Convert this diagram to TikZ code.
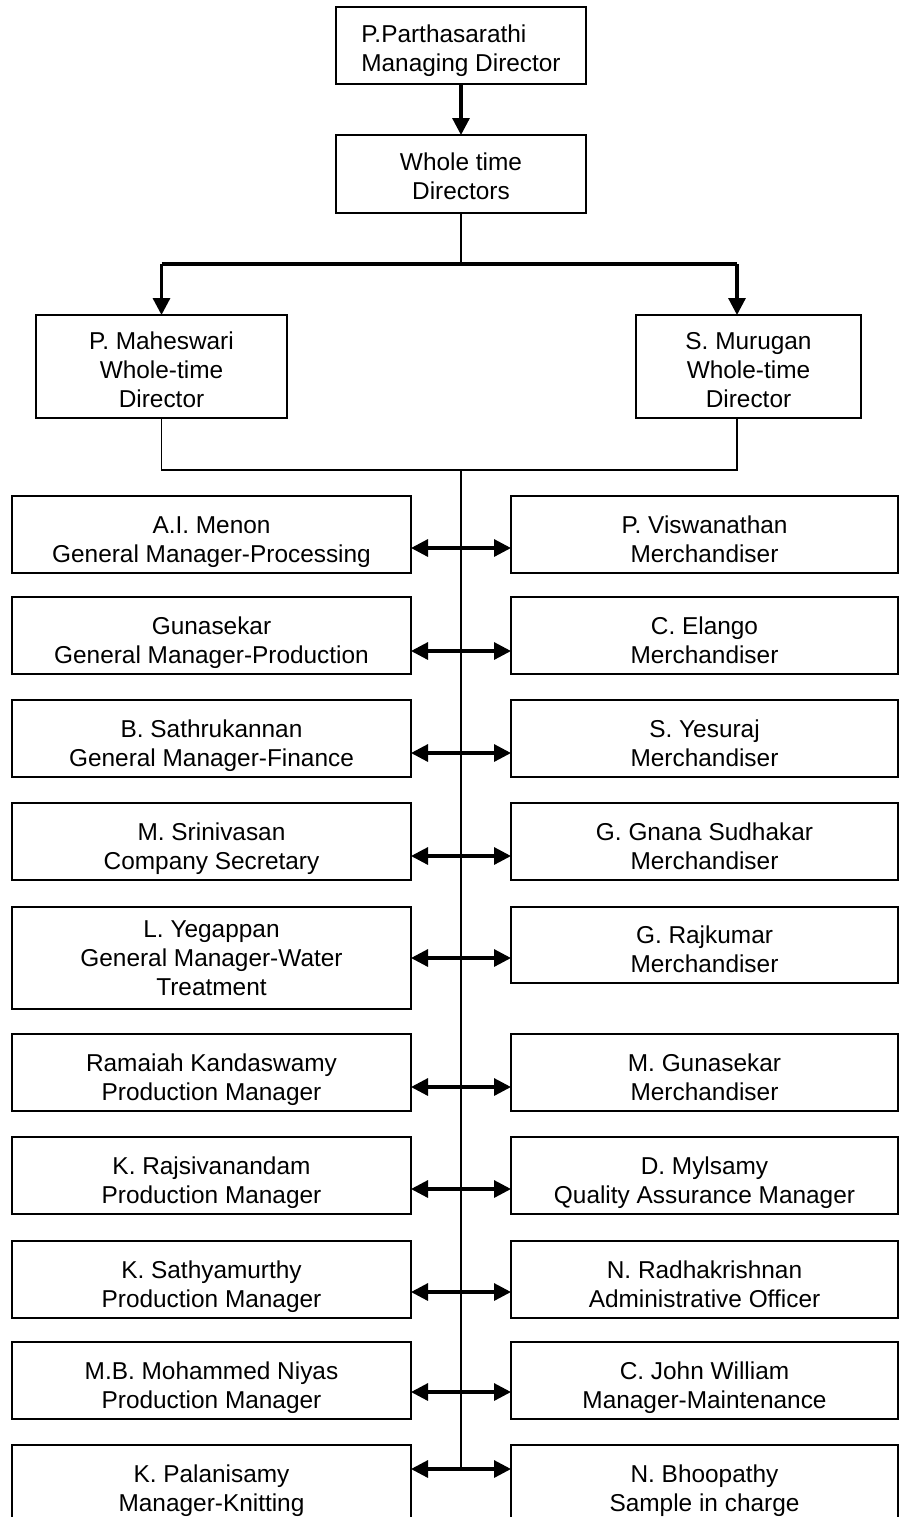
\documentclass[tikz,border=0pt]{standalone}
\usepackage{fontspec}
\setmainfont{Liberation Sans}
\usetikzlibrary{positioning,calc,arrows.meta}

\tikzset{
  orgbox/.style={draw, line width=0.8pt, anchor=north west, align=center,
    inner sep=2pt, outer sep=0pt, font=\fontsize{12.2pt}{14.5pt}\selectfont,
    text height=27.5pt, text depth=0pt},
  leftbox/.style={orgbox, minimum width=199.5pt, minimum height=38.5pt},
  rightbox/.style={orgbox, minimum width=193.5pt, minimum height=38.5pt},
  link/.style={line width=0.8pt},
  tip/.tip={Triangle[length=8.5pt, width=8.5pt]},
  downarrow/.style={line width=1.6pt, -tip},
  biarrow/.style={line width=1.6pt, tip-tip},
}

\begin{document}
\begin{tikzpicture}[x=0.5pt, y=-0.5pt]
  \useasboundingbox (0,0) rectangle (900,1517);

  % Managing director and whole time directors
  \node[orgbox, align=left, minimum width=125pt, minimum height=38.5pt, text height=25.5pt] (md) at (336,7) {P.Parthasarathi\\Managing Director};
  \node[orgbox, minimum width=125pt, minimum height=39pt, text height=25pt] (wtd) at (336,135) {Whole time\\Directors};
  \draw[downarrow] (md) -- (wtd);

  \node[orgbox, minimum width=125.5pt, minimum height=51.5pt, text height=40.5pt] (pm) at (36,315) {P. Maheswari\\Whole-time\\Director};
  \node[orgbox, minimum width=112.5pt, minimum height=51.5pt, text height=40.5pt] (sm) at (636,315) {S. Murugan\\Whole-time\\Director};

  % Split to the two directors
  \coordinate (split) at (461,264);
  \coordinate (splitR) at (737,264);
  \draw[link] (wtd) -- (split);
  \draw[line width=1.6pt] (pm.north |- split) -- (splitR);
  \draw[downarrow] (pm.north |- split) -- (pm);
  \draw[downarrow] (splitR) -- (splitR |- sm.north);

  % Join and spine
  \coordinate (joinR) at (737,470);
  \coordinate (spineend) at (461,1469);
  \draw[link] (pm) |- (joinR) -- (joinR |- sm.south);
  \draw[link] (wtd.south |- joinR) -- (spineend);

  % Row 1
  \node[leftbox] (l1) at (12,496) {A.I. Menon\\General Manager-Processing};
  \node[rightbox] (r1) at (511,496) {P. Viswanathan\\Merchandiser};
  \draw[biarrow] ($(l1.north east)+(0,52)$) -- ($(r1.north west)+(0,52)$);

  % Row 2
  \node[leftbox] (l2) at (12,597) {Gunasekar\\General Manager-Production};
  \node[rightbox] (r2) at (511,597) {C. Elango\\Merchandiser};
  \draw[biarrow] ($(l2.north east)+(0,54)$) -- ($(r2.north west)+(0,54)$);

  % Row 3
  \node[leftbox] (l3) at (12,700) {B. Sathrukannan\\General Manager-Finance};
  \node[rightbox] (r3) at (511,700) {S. Yesuraj\\Merchandiser};
  \draw[biarrow] ($(l3.north east)+(0,53)$) -- ($(r3.north west)+(0,53)$);

  % Row 4
  \node[leftbox] (l4) at (12,803) {M. Srinivasan\\Company Secretary};
  \node[rightbox] (r4) at (511,803) {G. Gnana Sudhakar\\Merchandiser};
  \draw[biarrow] ($(l4.north east)+(0,53)$) -- ($(r4.north west)+(0,53)$);

  % Row 5
  \node[leftbox, minimum height=51pt, text height=37pt] (l5) at (12,907) {L. Yegappan\\General Manager-Water\\Treatment};
  \node[rightbox, minimum height=38pt] (r5) at (511,907) {G. Rajkumar\\Merchandiser};
  \draw[biarrow] ($(l5.north east)+(0,51)$) -- ($(r5.north west)+(0,51)$);

  % Row 6
  \node[leftbox] (l6) at (12,1034) {Ramaiah Kandaswamy\\Production Manager};
  \node[rightbox] (r6) at (511,1034) {M. Gunasekar\\Merchandiser};
  \draw[biarrow] ($(l6.north east)+(0,53)$) -- ($(r6.north west)+(0,53)$);

  % Row 7
  \node[leftbox] (l7) at (12,1137) {K. Rajsivanandam\\Production Manager};
  \node[rightbox] (r7) at (511,1137) {D. Mylsamy\\Quality Assurance Manager};
  \draw[biarrow] ($(l7.north east)+(0,52)$) -- ($(r7.north west)+(0,52)$);

  % Row 8
  \node[leftbox] (l8) at (12,1241) {K. Sathyamurthy\\Production Manager};
  \node[rightbox] (r8) at (511,1241) {N. Radhakrishnan\\Administrative Officer};
  \draw[biarrow] ($(l8.north east)+(0,51)$) -- ($(r8.north west)+(0,51)$);

  % Row 9
  \node[leftbox] (l9) at (12,1342) {M.B. Mohammed Niyas\\Production Manager};
  \node[rightbox] (r9) at (511,1342) {C. John William\\Manager-Maintenance};
  \draw[biarrow] ($(l9.north east)+(0,50)$) -- ($(r9.north west)+(0,50)$);

  % Row 10
  \node[leftbox] (l10) at (12,1445) {K. Palanisamy\\Manager-Knitting};
  \node[rightbox] (r10) at (511,1445) {N. Bhoopathy\\Sample in charge};
  \draw[biarrow] ($(l10.north east)+(0,24)$) -- ($(r10.north west)+(0,24)$);
\end{tikzpicture}
\end{document}
